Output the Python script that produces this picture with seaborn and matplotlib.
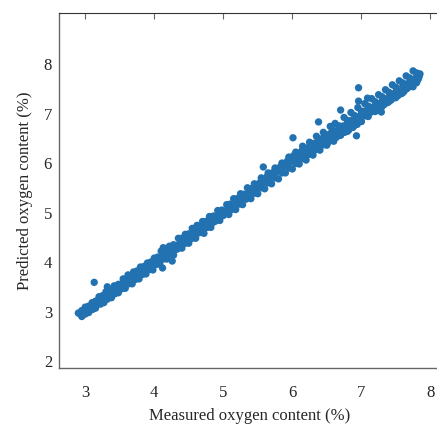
import numpy as np
import pandas as pd
import matplotlib
matplotlib.use('Agg')
import matplotlib.pyplot as plt
import seaborn as sns

# measured vs predicted oxygen content (%)
measured = [2.90, 2.93, 2.95, 2.98, 3.00, 3.03, 3.05, 3.08, 3.10, 3.12, 3.15, 3.18, 3.20, 3.22, 3.25,
            3.28, 3.30, 3.33, 3.35, 3.38, 3.40, 3.42, 3.45, 3.48, 3.50,
            3.52, 3.54, 3.55, 3.57, 3.58, 3.60, 3.62, 3.63, 3.65, 3.67, 3.68, 3.70, 3.72, 3.73, 3.75,
            3.77, 3.78, 3.80, 3.82, 3.83, 3.85, 3.87, 3.88, 3.90, 3.92, 3.94, 3.96, 3.98, 4.00,
            4.02, 4.05, 4.08, 4.10, 4.13, 4.15, 4.18, 4.20, 4.23, 4.25, 4.28, 4.30, 4.33, 4.35, 4.38,
            4.40, 4.43, 4.45, 4.48, 4.50, 4.53, 4.55, 4.58, 4.60, 4.63, 4.65, 4.68, 4.70, 4.73, 4.75,
            4.78, 4.80, 4.83, 4.85, 4.88, 4.90, 4.93, 4.95, 4.98, 5.00,
            5.02, 5.05, 5.08, 5.10, 5.13, 5.15, 5.18, 5.20, 5.23, 5.25, 5.28, 5.30, 5.33, 5.35, 5.38,
            5.40, 5.43, 5.45, 5.48, 5.50, 5.53, 5.55, 5.58, 5.60, 5.63, 5.65, 5.68, 5.70, 5.73, 5.75,
            5.78, 5.80, 5.83, 5.85, 5.88, 5.90, 5.93, 5.95, 5.98, 6.00,
            6.02, 6.04, 6.06, 6.08, 6.10, 6.12, 6.14, 6.16, 6.18, 6.20, 6.22, 6.24, 6.26, 6.28, 6.30,
            6.32, 6.34, 6.36, 6.38, 6.40, 6.42, 6.44, 6.46, 6.48, 6.50, 6.52, 6.54, 6.56, 6.58, 6.60,
            6.62, 6.64, 6.66, 6.68, 6.70, 6.72, 6.74, 6.76, 6.78, 6.80, 6.82, 6.84, 6.86, 6.88, 6.90,
            6.92, 6.94, 6.96, 6.98, 7.00,
            7.02, 7.05, 7.08, 7.10, 7.13, 7.15, 7.18, 7.20, 7.23, 7.25, 7.28, 7.30, 7.33, 7.35, 7.38,
            7.40, 7.43, 7.45, 7.48, 7.50, 7.53, 7.55, 7.58, 7.60, 7.62, 7.64, 7.66, 7.68, 7.70, 7.72,
            7.74, 7.76, 7.78, 7.80, 7.82, 7.84, 7.85]
predicted = [2.97, 2.95, 3.02, 3.00, 3.05, 2.99, 3.08, 3.04, 3.12, 3.06, 3.15, 3.22, 3.17, 3.25, 3.20,
             3.30, 3.27, 3.36, 3.31, 3.38, 3.44, 3.36, 3.47, 3.42, 3.52,
             3.48, 3.56, 3.60, 3.52, 3.62, 3.57, 3.66, 3.60, 3.63, 3.70, 3.65, 3.72, 3.68, 3.76, 3.71,
             3.79, 3.74, 3.80, 3.77, 3.84, 3.79, 3.86, 3.83, 3.88, 3.85, 3.92, 3.89, 3.94, 3.96,
             3.98, 4.02, 4.05, 4.08, 4.10, 4.15, 4.13, 4.20, 4.18, 4.24, 4.22, 4.30, 4.27, 4.35, 4.32,
             4.40, 4.38, 4.46, 4.42, 4.52, 4.48, 4.56, 4.53, 4.58, 4.62, 4.60, 4.68, 4.65, 4.72, 4.70,
             4.78, 4.75, 4.83, 4.80, 4.87, 4.85, 4.92, 4.90, 4.97, 5.00,
             5.03, 5.00, 5.08, 5.06, 5.14, 5.11, 5.20, 5.17, 5.26, 5.22, 5.31, 5.28, 5.37, 5.33, 5.43,
             5.40, 5.48, 5.45, 5.55, 5.50, 5.60, 5.56, 5.66, 5.62, 5.72, 5.68, 5.77, 5.73, 5.82, 5.78,
             5.88, 5.84, 5.93, 5.90, 5.99, 5.95, 6.04, 6.00, 6.10, 6.06,
             6.15, 6.02, 6.12, 6.20, 6.08, 6.18, 6.25, 6.12, 6.22, 6.30, 6.17, 6.28, 6.35, 6.22, 6.32,
             6.40, 6.27, 6.38, 6.45, 6.32, 6.43, 6.50, 6.37, 6.48, 6.55, 6.42, 6.52, 6.60, 6.47, 6.58,
             6.65, 6.52, 6.63, 6.70, 6.57, 6.68, 6.75, 6.62, 6.72, 6.80, 6.67, 6.78, 6.86, 6.72, 6.83,
             6.90, 6.78, 6.88, 6.95, 6.84,
             6.98, 7.05, 6.95, 7.08, 7.02, 7.12, 7.06, 7.15, 7.10, 7.20, 7.14, 7.24, 7.18, 7.28, 7.22,
             7.32, 7.27, 7.36, 7.32, 7.40, 7.36, 7.45, 7.40, 7.50, 7.45, 7.55, 7.50, 7.60, 7.55, 7.64,
             7.60, 7.68, 7.64, 7.72, 7.68, 7.76, 7.80]

# points along the upper and lower edges of the band
upper_measured = [3.00, 3.10, 3.20, 3.30, 3.42, 3.55, 3.62, 3.70, 3.80, 3.90,
                  4.00, 4.10, 4.22, 4.35, 4.45, 4.55, 4.62, 4.70, 4.80, 4.92,
                  5.05, 5.15, 5.25, 5.35, 5.45, 5.55, 5.65, 5.75, 5.85, 5.95,
                  6.05, 6.15, 6.25, 6.35, 6.45, 6.55, 6.62, 6.75, 6.85, 6.95,
                  7.05, 7.15, 7.25, 7.35, 7.45, 7.55, 7.65, 7.75]
upper_predicted = [3.09, 3.18, 3.30, 3.40, 3.52, 3.66, 3.74, 3.80, 3.90, 3.98,
                   4.08, 4.22, 4.32, 4.48, 4.56, 4.68, 4.74, 4.82, 4.92, 5.04,
                   5.16, 5.28, 5.38, 5.50, 5.58, 5.70, 5.80, 5.90, 6.00, 6.12,
                   6.22, 6.34, 6.42, 6.54, 6.62, 6.74, 6.80, 6.92, 7.02, 7.12,
                   7.20, 7.30, 7.38, 7.48, 7.58, 7.66, 7.76, 7.86]
lower_measured = [2.95, 3.05, 3.15, 3.27, 3.38, 3.48, 3.58, 3.68, 3.78, 3.88,
                  3.98, 4.08, 4.18, 4.28, 4.40, 4.50, 4.60, 4.72, 4.82, 4.95,
                  5.08, 5.18, 5.28, 5.40, 5.50, 5.60, 5.70, 5.80, 5.90, 6.00,
                  6.10, 6.20, 6.30, 6.40, 6.50, 6.60, 6.70, 6.80, 6.90, 7.00,
                  7.10, 7.20, 7.30, 7.40, 7.50, 7.60, 7.70, 7.80]
lower_predicted = [2.90, 2.98, 3.07, 3.18, 3.28, 3.38, 3.47, 3.56, 3.66, 3.76,
                   3.84, 3.96, 4.06, 4.14, 4.28, 4.38, 4.48, 4.58, 4.70, 4.84,
                   4.96, 5.06, 5.16, 5.28, 5.38, 5.48, 5.58, 5.68, 5.80, 5.88,
                   5.98, 6.06, 6.16, 6.26, 6.36, 6.44, 6.56, 6.64, 6.76, 6.84,
                   6.94, 7.04, 7.14, 7.24, 7.32, 7.42, 7.54, 7.62]

# in-between rows that fill the band
upper2_measured = [3.05, 3.15, 3.25, 3.36, 3.48, 3.58, 3.66, 3.75, 3.85, 3.95,
                   4.05, 4.16, 4.28, 4.40, 4.50, 4.58, 4.66, 4.75, 4.86, 4.98,
                   5.10, 5.20, 5.30, 5.40, 5.50, 5.60, 5.70, 5.80, 5.90, 6.00,
                   6.10, 6.20, 6.30, 6.40, 6.50, 6.58, 6.68, 6.80, 6.90, 7.00,
                   7.10, 7.20, 7.30, 7.40, 7.50, 7.60, 7.70, 7.80]
upper2_predicted = [3.11, 3.21, 3.32, 3.42, 3.55, 3.64, 3.72, 3.82, 3.91, 4.00,
                    4.10, 4.23, 4.35, 4.48, 4.57, 4.65, 4.73, 4.82, 4.93, 5.05,
                    5.17, 5.28, 5.37, 5.48, 5.57, 5.67, 5.78, 5.88, 5.98, 6.08,
                    6.18, 6.28, 6.38, 6.47, 6.57, 6.66, 6.75, 6.86, 6.96, 7.05,
                    7.15, 7.24, 7.34, 7.43, 7.53, 7.62, 7.72, 7.82]
lower2_measured = [3.00, 3.10, 3.22, 3.32, 3.43, 3.53, 3.63, 3.73, 3.83, 3.93,
                   4.03, 4.13, 4.23, 4.33, 4.45, 4.55, 4.65, 4.77, 4.88, 5.00,
                   5.12, 5.23, 5.33, 5.45, 5.55, 5.65, 5.75, 5.85, 5.95, 6.05,
                   6.15, 6.25, 6.35, 6.45, 6.55, 6.65, 6.75, 6.85, 6.95, 7.05,
                   7.15, 7.25, 7.35, 7.45, 7.55, 7.65, 7.75, 7.83]
lower2_predicted = [2.95, 3.04, 3.15, 3.25, 3.36, 3.46, 3.56, 3.65, 3.75, 3.85,
                    3.95, 4.06, 4.16, 4.26, 4.38, 4.48, 4.59, 4.70, 4.82, 4.94,
                    5.06, 5.17, 5.27, 5.39, 5.50, 5.60, 5.70, 5.80, 5.90, 5.99,
                    6.09, 6.18, 6.28, 6.38, 6.48, 6.57, 6.67, 6.76, 6.86, 6.96,
                    7.06, 7.15, 7.25, 7.34, 7.44, 7.53, 7.64, 7.72]

# scattered points off the main band
out_measured = [3.13, 3.32, 4.12, 4.26, 4.13, 5.58, 6.01, 6.38, 6.93, 6.96, 6.96, 7.09, 7.29, 7.75, 6.70]
out_predicted = [3.59, 3.50, 3.88, 4.02, 4.29, 5.92, 6.51, 6.83, 6.55, 7.52, 7.25, 7.31, 7.03, 7.54, 7.07]

df = pd.DataFrame({
    'measured': measured + upper_measured + lower_measured + upper2_measured
                + lower2_measured + out_measured,
    'predicted': predicted + upper_predicted + lower_predicted + upper2_predicted
                 + lower2_predicted + out_predicted,
})

sns.set_style('white')
plt.rcParams['font.family'] = ['Liberation Serif', 'DejaVu Serif']

fig = plt.figure(figsize=(4.37, 4.26), dpi=100)
ax = fig.add_axes([59 / 437, 58 / 426, 381 / 437, 355 / 426])

ax.plot([2.9, 7.85], [2.9, 7.85], color='#333333', lw=0.8, zorder=1)
sns.scatterplot(data=df, x='measured', y='predicted', ax=ax, color='#2272b2',
                s=28, edgecolor='none', zorder=2)

ax.set_xlim(2.62, 8.14)
ax.set_ylim(1.86, 9.03)
ax.set_xticks([3, 4, 5, 6, 7, 8])
ax.set_yticks([2, 3, 4, 5, 6, 7, 8])
ax.set_xlabel('Measured oxygen content (%)', fontsize=12, labelpad=5)
ax.set_ylabel('Predicted oxygen content (%)', fontsize=12, labelpad=8)

for side in ['left', 'bottom']:
    ax.spines[side].set_color('#666666')
    ax.spines[side].set_linewidth(1.0)
ax.spines['top'].set_color('#333333')
ax.spines['right'].set_visible(False)

ax.tick_params(axis='x', direction='out', length=4, color='#666666', labelsize=12, pad=8)
ax.tick_params(axis='y', direction='out', length=3, color='#666666', labelsize=12, pad=2)

# ticks on the top spine point into the plot
top = ax.secondary_xaxis('top')
top.set_xticks([3, 4, 5, 6, 7, 8])
top.tick_params(direction='in', length=4, color='#666666', labeltop=False)
top.spines['top'].set_visible(False)

fig.savefig('out.png', dpi=100)
